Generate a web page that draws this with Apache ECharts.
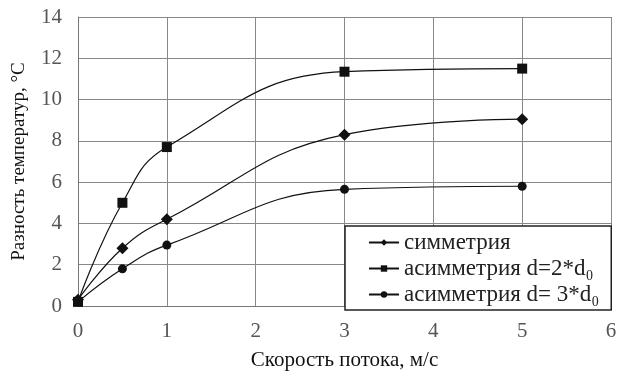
<!DOCTYPE html>
<html><head><meta charset="utf-8">
<script src="https://cdn.jsdelivr.net/npm/echarts@6/dist/echarts.min.js"></script>
<style>html,body{margin:0;padding:0;background:#fff}#c{width:620px;height:376px}</style>
</head><body><div id="c"></div>
<script>
const xValues = [0, 0.5, 1, 3, 5];
const symmetry = [0.3, 2.8, 4.2, 8.3, 9.05];
const asym2 = [0.2, 5.0, 7.7, 11.35, 11.5];
const asym3 = [0.2, 1.8, 2.95, 5.65, 5.8];
const seriesNames = ['симметрия', 'асимметрия d=2*d₀', 'асимметрия d= 3*d₀'];
const xTicks = [0, 1, 2, 3, 4, 5, 6];
const yTicks = [0, 2, 4, 6, 8, 10, 12, 14];

const font = '"Liberation Serif", "DejaVu Serif", serif';
const pairs = arr => xValues.map((x, i) => [x, arr[i]]);
const chart = echarts.init(document.getElementById('c'));
const mk = (name, data, symbol, size) => ({
  name, type: 'line', data: pairs(data), smooth: 0.45,
  symbol, symbolSize: size,
  lineStyle: { color: '#111', width: 1.2 },
  itemStyle: { color: '#111' },
  emphasis: { disabled: true }
});
chart.setOption({
  animation: false,
  textStyle: { fontFamily: font },
  grid: { left: 78, right: 9, top: 17, bottom: 68 },
  xAxis: {
    type: 'value', min: 0, max: 6, interval: 1,
    name: 'Скорость потока, м/с', nameLocation: 'middle', nameGap: 44,
    nameTextStyle: { color: '#111', fontSize: 21, fontFamily: font },
    axisLine: { show: true, lineStyle: { color: '#777' } },
    axisTick: { show: false },
    axisLabel: { color: '#555', fontSize: 21, fontFamily: font, margin: 15,
      formatter: v => xTicks.includes(v) ? String(v) : '' },
    splitLine: { show: true, lineStyle: { color: '#888', width: 1 } }
  },
  yAxis: {
    type: 'value', min: 0, max: 14, interval: 2,
    name: 'Разность температур, °C', nameLocation: 'middle', nameGap: 49,
    nameTextStyle: { color: '#111', fontSize: 19, fontFamily: font },
    axisLine: { show: true, lineStyle: { color: '#777' } },
    axisTick: { show: false },
    axisLabel: { color: '#555', fontSize: 21, fontFamily: font, margin: 16,
      formatter: v => yTicks.includes(v) ? String(v) : '' },
    splitLine: { show: true, lineStyle: { color: '#888', width: 1 } }
  },
  legend: {
    orient: 'vertical', left: 345, top: 226,
    backgroundColor: '#fff', borderColor: '#222', borderWidth: 1.5,
    padding: [4, 12, 3, 23], itemGap: 1, itemWidth: 30, itemHeight: 8,
    textStyle: { color: '#222', fontSize: 23, lineHeight: 25, fontFamily: font },
    data: seriesNames
  },
  series: [
    mk(seriesNames[0], symmetry, 'diamond', 12),
    mk(seriesNames[1], asym2, 'rect', 10),
    mk(seriesNames[2], asym3, 'circle', 9)
  ]
});
</script></body></html>
